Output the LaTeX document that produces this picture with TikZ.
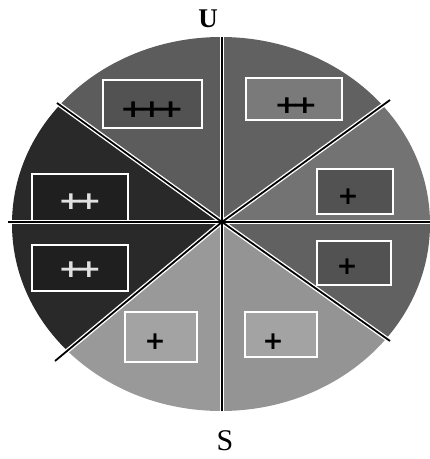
\documentclass[tikz,border=0pt]{standalone}
\usepackage{fontspec}
\usepackage{graphicx}
\setmainfont{Liberation Serif}
\newfontfamily\crossfont{DejaVu Sans}
\begin{document}
\begin{tikzpicture}[x=1pt,y=-1pt,
  casing/.style={draw=white,line width=4.5pt},
  divider/.style={draw=black,line width=1.8pt},
  panel/.style={draw=white,line width=2.6pt},
  crossmark/.style={font=\crossfont\bfseries\fontsize{25}{25}\selectfont,inner sep=0pt,anchor=center}]
\useasboundingbox (0,0) rectangle (430,459);
% centre and line ends
\coordinate (C) at (222,222);
\coordinate (Nt) at (222,37);
\coordinate (Sb) at (222,411);
\coordinate (Wl) at (8,222);
\coordinate (Er) at (430,222);
\coordinate (NW) at (57,103);
\coordinate (NE) at (390,100);
\coordinate (SW) at (55,361);
\coordinate (SE) at (390,341);
% far points for sector fills
\coordinate (fN) at (222,-600);
\coordinate (fS) at (222,1000);
\coordinate (fW) at (-600,222);
\coordinate (fE) at (1000,222);
\coordinate (fNW) at (-603,-373);
\coordinate (fNE) at (1062,-388);
\coordinate (fSW) at (-613,917);
\coordinate (fSE) at (1062,817);
\begin{scope}
  \clip (221,224) ellipse [x radius=209, y radius=187];
  \fill[black!64] (C) -- (fN) -- (fNW) -- cycle;
  \fill[black!62] (C) -- (fN) -- (fNE) -- cycle;
  \fill[black!84] (C) -- (fNW) -- (fW) -- cycle;
  \fill[black!84] (C) -- (fW) -- (fSW) -- cycle;
  \fill[black!55] (C) -- (fNE) -- (fE) -- cycle;
  \fill[black!62] (C) -- (fE) -- (fSE) -- cycle;
  \fill[black!40] (C) -- (fSW) -- (fS) -- cycle;
  \fill[black!42] (C) -- (fS) -- (fSE) -- cycle;
\end{scope}
% boxes
\path[panel,fill=black!68] (103,80) rectangle (202,128);
\path[panel,fill=black!52] (246,78) rectangle (342,120);
\path[panel,fill=black!88] (32,174) rectangle (128,221);
\path[panel,fill=black!88] (32,245) rectangle (128,291);
\path[panel,fill=black!68] (317,169) rectangle (393,214);
\path[panel,fill=black!68] (317,241) rectangle (391,285);
\path[panel,fill=black!36] (125,312) rectangle (197,362);
\path[panel,fill=black!36] (245,312) rectangle (317,357);
% dividing lines
\foreach \p in {Nt,Sb,Wl,Er,NW,NE,SW,SE} \draw[casing] (C) -- (\p);
\foreach \p in {Nt,Sb,Wl,Er,NW,NE,SW,SE} \draw[divider] (C) -- (\p);
% crosses
\node[crossmark,text=black] (m1) at (152,110) {\scalebox{1.25}[1]{+\kern-6pt+\kern-6pt+}};
\node[crossmark,text=black] (m2) at (296,106) {\scalebox{1.2}[1]{+\kern-6pt+}};
\node[crossmark,text=black!12] (m3) at (80,202) {\scalebox{1.2}[1]{+\kern-6pt+}};
\node[crossmark,text=black!12] (m4) at (80,270) {\scalebox{1.2}[1]{+\kern-6pt+}};
\node[crossmark,text=black] (m5) at (348,197) {+};
\node[crossmark,text=black] (m6) at (347,267) {+};
\node[crossmark,text=black] (m7) at (155,342) {+};
\node[crossmark,text=black] (m8) at (273,342) {+};
% labels
\node[font=\bfseries\fontsize{27}{27}\selectfont,inner sep=0pt] (U) at (208,19) {U};
\node[font=\fontsize{30}{30}\selectfont,inner sep=0pt] (S) at (225,441) {S};
\end{tikzpicture}
\end{document}
